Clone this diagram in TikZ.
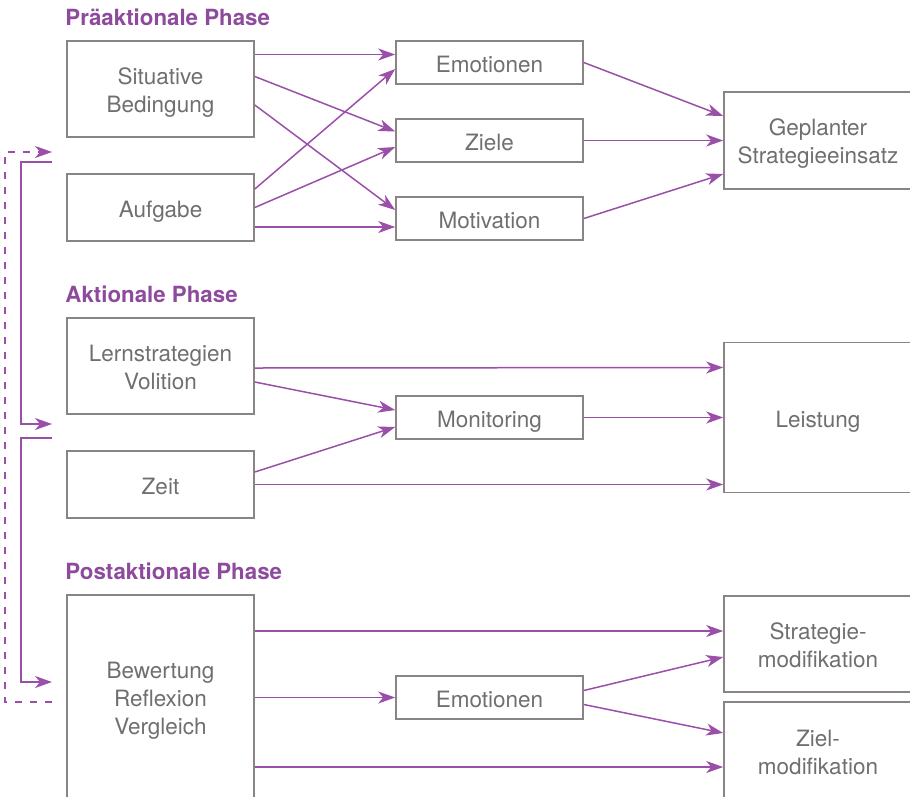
\documentclass[tikz,border=0pt]{standalone}
\usepackage{fontspec}
\setmainfont{TeX Gyre Heros}
\usetikzlibrary{arrows.meta,positioning}
\definecolor{lila}{HTML}{9A4FA8}
\definecolor{lilatext}{HTML}{8E4A9C}
\definecolor{rahmen}{HTML}{8A8585}
\definecolor{schrift}{HTML}{6F6F6F}
\newcommand{\zeilenstrut}{\rule[-4.5pt]{0pt}{28.5pt}}
\newcommand{\obenstrut}{\rule{0pt}{24pt}}
\newcommand{\untenstrut}{\rule[-5.8pt]{0pt}{0pt}}

\begin{document}
\begin{tikzpicture}[x=1pt,y=-1pt,on grid,
    box/.style={draw=rahmen,line width=1.6pt,text=schrift,minimum width=187pt,
      align=center,inner sep=0pt,font=\fontsize{22.5}{28}\selectfont,
      execute at begin node=\zeilenstrut,execute at end node=\zeilenstrut},
    phase/.style={text=lilatext,font=\bfseries\fontsize{22.3}{26}\selectfont,inner sep=0pt},
    link/.style={draw=lila,line width=1.5pt},
    >={Stealth[length=17pt,width=12pt,inset=5pt]}]
    \path[use as bounding box,clip] (0,0) rectangle (910,796);
    % praeaktionale Phase
    \node[box, minimum height=96pt] (pre_sit) at (160.5,89) {\obenstrut Situative\\Bedingung\untenstrut};
    \node[box, minimum height=67pt] (pre_auf) [below=118.5pt of pre_sit] {Aufgabe};
    \node[box, minimum height=43pt] (pre_emo) [above right=26.5pt and 329pt of pre_sit] {Emotionen};
    \node[box, minimum height=43pt] (pre_ziel) [below=78pt of pre_emo] {Ziele};
    \node[box, minimum height=43pt] (pre_mot) [below=78pt of pre_ziel] {Motivation};
    \node[box, minimum width=188pt, minimum height=97pt] (pre_plan) [right=328.5pt of pre_ziel] {\obenstrut Geplanter\\Strategieeinsatz\untenstrut};
    \node[phase, above=15pt of pre_sit.north west, anchor=base west, xshift=-1pt] (h_pre) {Präaktionale Phase};
    % aktionale Phase
    \node[box, minimum height=96pt] (akt_lern) [below=158.5pt of pre_auf] {\obenstrut Lernstrategien\\Volition\untenstrut};
    \node[box, minimum height=67pt] (akt_zeit) [below=118.5pt of akt_lern] {Zeit};
    \node[box, minimum height=43pt] (akt_mon) [below right=51.5pt and 329pt of akt_lern] {Monitoring};
    \node[box, minimum width=188pt, minimum height=150pt] (akt_leist) [right=328.5pt of akt_mon] {Leistung};
    \node[phase, above=15pt of akt_lern.north west, anchor=base west, xshift=-1pt] (h_akt) {Aktionale Phase};
    % postaktionale Phase
    \node[box, minimum height=205pt] (post_bew) [below=213pt of akt_zeit] {\obenstrut Bewertung\\Reflexion\\Vergleich\untenstrut};
    \node[box, minimum height=43pt] (post_emo) [right=329pt of post_bew] {Emotionen};
    \node[box, minimum width=188pt, minimum height=96pt] (post_smod) [above right=53.5pt and 328.5pt of post_emo] {\obenstrut Strategie-\\modifikation\untenstrut};
    \node[box, minimum width=188pt, minimum height=98pt] (post_zmod) [below right=53.5pt and 328.5pt of post_emo] {\obenstrut Ziel-\\modifikation\untenstrut};
    \node[phase, above=15pt of post_bew.north west, anchor=base west, xshift=-1pt] (h_post) {Postaktionale Phase};
    % Rueckkopplung
    \coordinate (fb_a) at (52,162);
    \coordinate (fb_b) at (52,424);
    \coordinate (fb_c) at (52,438);
    \coordinate (fb_d) at (52,682);
    \coordinate (fb_e) at (52,702);
    \coordinate (fb_f) at (52,152);
    \draw[link,->] (fb_a) -- ++(-31,0) |- (fb_b);
    \draw[link,->] (fb_c) -- ++(-31,0) |- (fb_d);
    \draw[link,->,dash pattern=on 7pt off 8pt] (fb_e) -- ++(-47,0) |- (fb_f);
    \path[->,every edge/.style={link}]
        ([yshift=34.5pt]pre_sit.east) edge ([yshift=8pt]pre_emo.west)
        ([yshift=12.5pt]pre_sit.east) edge ([yshift=9pt]pre_ziel.west)
        ([yshift=-16pt]pre_sit.east) edge ([yshift=8.5pt]pre_mot.west)
        ([yshift=18.5pt]pre_auf.east) edge ([yshift=-6.5pt]pre_emo.west)
        (pre_auf.east) edge ([yshift=-6.5pt]pre_ziel.west)
        ([yshift=-19.5pt]pre_auf.east) edge ([yshift=-8.5pt]pre_mot.west)
        (pre_emo.east) edge ([yshift=24.5pt]pre_plan.west)
        (pre_ziel.east) edge (pre_plan.west)
        (pre_mot.east) edge ([yshift=-33.5pt]pre_plan.west)
        ([yshift=-2pt]akt_lern.east) edge ([yshift=50pt]akt_leist.west)
        ([yshift=-16pt]akt_lern.east) edge ([yshift=7.5pt]akt_mon.west)
        ([yshift=12.5pt]akt_zeit.east) edge ([yshift=-9.5pt]akt_mon.west)
        (akt_mon.east) edge (akt_leist.west)
        (akt_zeit.east) edge ([yshift=-67pt]akt_leist.west)
        ([yshift=66.5pt]post_bew.east) edge ([yshift=13pt]post_smod.west)
        (post_bew.east) edge (post_emo.west)
        ([yshift=-69.5pt]post_bew.east) edge ([yshift=-16pt]post_zmod.west)
        ([yshift=7pt]post_emo.east) edge ([yshift=-13pt]post_smod.west)
        ([yshift=-7pt]post_emo.east) edge ([yshift=18pt]post_zmod.west);
\end{tikzpicture}
\end{document}
